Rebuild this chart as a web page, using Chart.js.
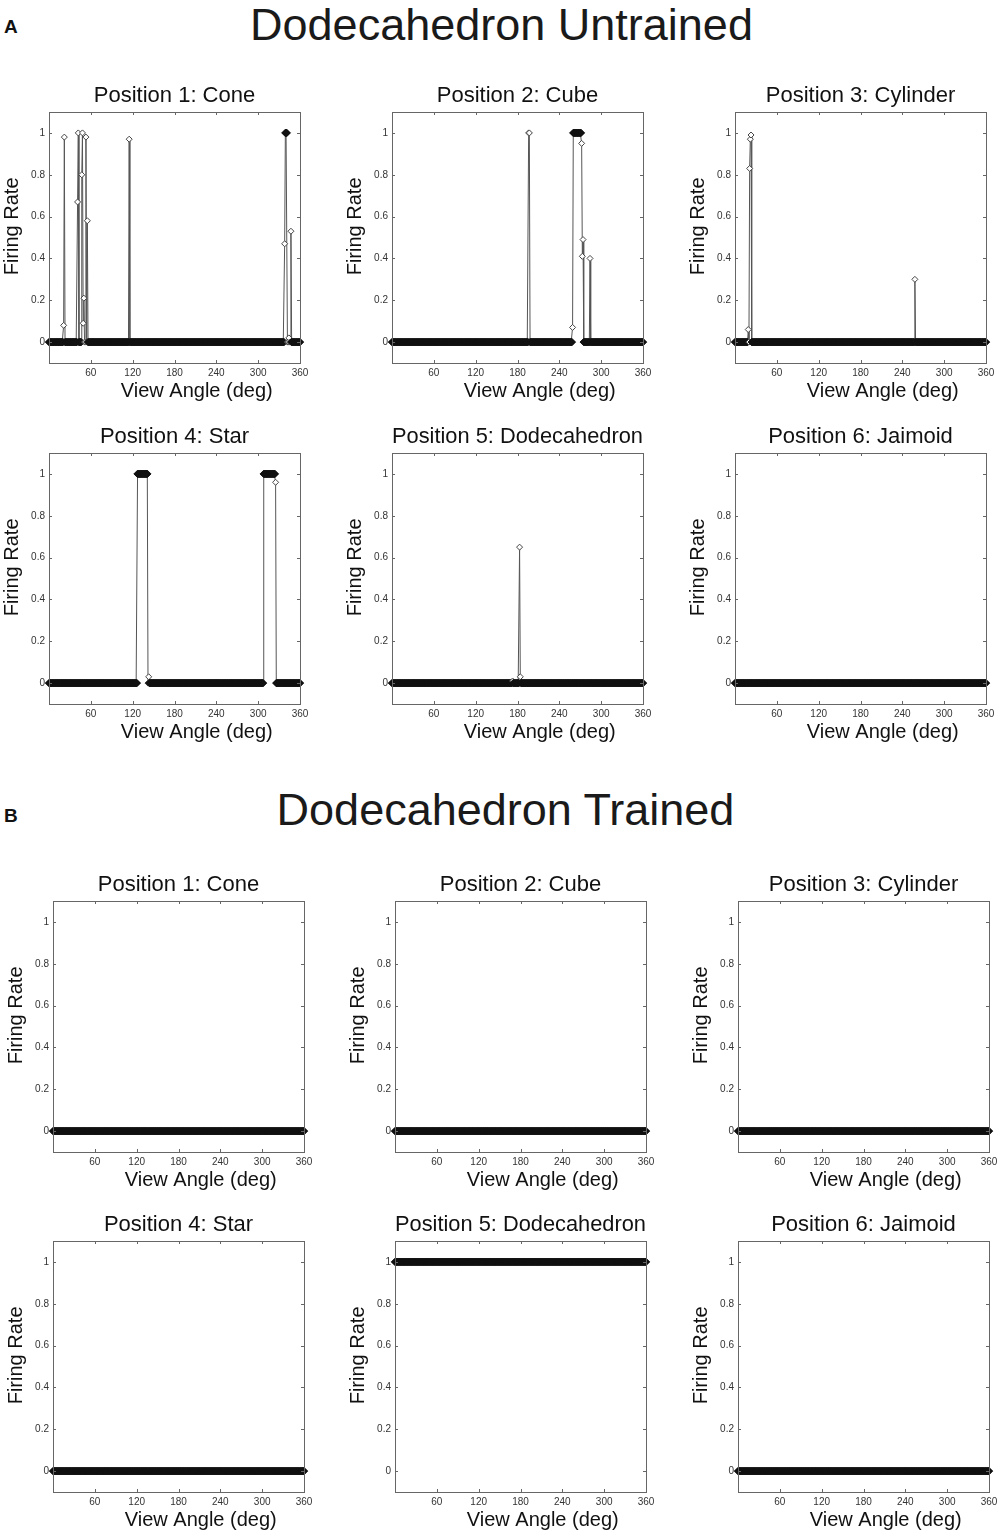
<!DOCTYPE html>
<html lang="en">
<head>
  <meta charset="UTF-8">
  <title>Dodecahedron Untrained / Trained</title>
  <script src="https://cdn.jsdelivr.net/npm/chart.js"></script>
  <style>
    body { margin: 0; background: #fff; font-family: "Liberation Sans", Arial, sans-serif; }
    #page { position: relative; width: 1003px; height: 1531px; overflow: hidden; }
    .heading { position: absolute; left: 0; width: 1003px; text-align: center; font-size: 45px; line-height: 45px; color: #1a1a1a; }
    .letter { position: absolute; font-weight: bold; font-size: 19px; line-height: 19px; color: #111; }
    canvas { position: absolute; }
  </style>
</head>
<body>
<div id="page">
  <div class="letter" style="left:4px; top:17px;">A</div>
  <div class="heading" style="top:2px;">Dodecahedron Untrained</div>
  <div class="letter" style="left:4px; top:806px;">B</div>
  <div class="heading" style="top:787px; left:4px;">Dodecahedron Trained</div>
</div>

<script>
  // sampled view angles (deg) and axis ticks
  const viewAngles = [];
  for (let a = 0; a <= 360; a++) viewAngles.push(a);
  const xTickValues = [60, 120, 180, 240, 300, 360];
  const yTickValues = [0, 0.2, 0.4, 0.6, 0.8, 1];

  const positionNames = ['Position 1: Cone', 'Position 2: Cube', 'Position 3: Cylinder',
                         'Position 4: Star', 'Position 5: Dodecahedron', 'Position 6: Jaimoid'];

  // firing rate everywhere except the listed [angle, rate] points
  const untrainedBaseline = [0, 0, 0, 0, 0, 0];
  const trainedBaseline = [0, 0, 0, 0, 1, 0];

  const untrainedCone = [[21, 0.08], [22, 0.98], [41, 0.67], [42, 1], [47, 0.8], [48, 1], [49, 0.09], [50, 0.21],
                         [53, 0.98], [55, 0.58], [115, 0.97], [338, 0.47], [339, 1], [340, 1], [341, 1],
                         [344, 0.02], [347, 0.53]];
  const untrainedCube = [[196, 1], [197, 1], [259, 0.07], [260, 1], [261, 1], [262, 1], [263, 1], [264, 1],
                         [265, 1], [266, 1], [267, 1], [268, 1], [269, 1], [270, 1], [271, 1],
                         [272, 0.95], [273, 0.41], [274, 0.49], [284, 0.4]];
  const untrainedCylinder = [[19, 0.06], [21, 0.83], [22, 0.97], [23, 0.99], [258, 0.3]];
  const untrainedStar = [[127, 1], [128, 1], [129, 1], [130, 1], [131, 1], [132, 1], [133, 1], [134, 1],
                         [135, 1], [136, 1], [137, 1], [138, 1], [139, 1], [140, 1], [141, 1], [143, 0.03],
                         [308, 1], [309, 1], [310, 1], [311, 1], [312, 1], [313, 1], [314, 1], [315, 1],
                         [316, 1], [317, 1], [318, 1], [319, 1], [320, 1], [321, 1], [322, 1], [323, 1],
                         [324, 1], [325, 0.96]];
  const untrainedDodecahedron = [[173, 0.01], [183, 0.65], [184, 0.03]];
  const untrainedJaimoid = [];

  const untrainedSpikes = [untrainedCone, untrainedCube, untrainedCylinder,
                           untrainedStar, untrainedDodecahedron, untrainedJaimoid];
  const trainedSpikes = [[], [], [], [], [], []];

  // panel box placement on the page
  const rowTops = [112, 453, 901, 1241];
  const colLeftsA = [49, 392, 735];
  const colLeftsB = [53, 395, 738];
  const BOX = 251, AXIS_W = 49, TITLE_H = 29, XAXIS_H = 50, RIGHT_PAD = 15;

  Chart.defaults.font.family = '"Liberation Sans", Arial, sans-serif';

  // MATLAB style box with inward ticks on all four sides
  const boxPlugin = {
    id: 'matlabBox',
    afterDraw(chart) {
      const { ctx, chartArea: a, scales } = chart;
      ctx.save();
      ctx.strokeStyle = '#666';
      ctx.lineWidth = 1;
      ctx.strokeRect(a.left + 0.5, a.top + 0.5, a.right - a.left, a.bottom - a.top);
      ctx.beginPath();
      xTickValues.forEach(v => {
        const px = Math.round(scales.x.getPixelForValue(v)) + 0.5;
        ctx.moveTo(px, a.bottom); ctx.lineTo(px, a.bottom - 3);
        ctx.moveTo(px, a.top); ctx.lineTo(px, a.top + 3);
      });
      yTickValues.forEach(v => {
        const py = Math.round(scales.y.getPixelForValue(v)) + 0.5;
        ctx.moveTo(a.left, py); ctx.lineTo(a.left + 3, py);
        ctx.moveTo(a.right, py); ctx.lineTo(a.right - 3, py);
      });
      ctx.stroke();
      ctx.restore();
    }
  };

  // markers inside a flat run of 3+ samples overlap into a solid black band
  function inRun(ctx) {
    const d = ctx.dataset.data, i = ctx.dataIndex, y = d[i].y;
    let n = 1;
    for (let j = i - 1; j >= 0 && d[j].y === y && n < 3; j--) n++;
    for (let j = i + 1; j < d.length && d[j].y === y && n < 3; j++) n++;
    return n >= 3;
  }

  function makePanel(boxLeft, boxTop, title, spikes, baseline) {
    const canvas = document.createElement('canvas');
    canvas.width = AXIS_W + BOX + RIGHT_PAD;
    canvas.height = TITLE_H + BOX + XAXIS_H;
    canvas.style.left = (boxLeft - AXIS_W) + 'px';
    canvas.style.top = (boxTop - TITLE_H) + 'px';
    document.getElementById('page').appendChild(canvas);

    const spikeMap = new Map(spikes);
    const points = viewAngles.map(a => ({ x: a, y: spikeMap.has(a) ? spikeMap.get(a) : baseline }));

    new Chart(canvas, {
      type: 'line',
      data: {
        datasets: [{
          data: points,
          borderColor: '#555',
          borderWidth: 1,
          tension: 0,
          pointStyle: 'rectRot',
          pointRadius: ctx => inRun(ctx) ? 3.7 : 3,
          pointBorderWidth: 1,
          pointBorderColor: ctx => inRun(ctx) ? '#111' : '#444',
          pointBackgroundColor: ctx => inRun(ctx) ? '#111' : '#fff',
          clip: false
        }]
      },
      options: {
        responsive: false,
        animation: false,
        events: [],
        layout: { padding: { left: 0, right: RIGHT_PAD, top: 0, bottom: 0 } },
        plugins: {
          legend: { display: false },
          tooltip: { enabled: false },
          title: {
            display: true,
            text: title,
            fullSize: false,
            color: '#111',
            font: { size: 22, weight: 'normal', lineHeight: 1.2 },
            padding: { top: 0, bottom: 2.6 }
          }
        },
        scales: {
          x: {
            type: 'linear',
            min: 0,
            max: 360,
            grid: { display: false, drawTicks: false },
            border: { display: false },
            afterBuildTicks: s => { s.ticks = xTickValues.map(v => ({ value: v })); },
            afterFit: s => { s.height = XAXIS_H; },
            ticks: { color: '#333', font: { size: 10 }, padding: 4, maxRotation: 0, autoSkip: false,
                     callback: v => String(v) },
            title: {
              display: true,
              text: '        View Angle (deg)',
              color: '#111',
              font: { size: 20 },
              padding: { top: 0, bottom: 10 }
            }
          },
          y: {
            type: 'linear',
            min: -0.1,
            max: 1.1,
            grid: { display: false, drawTicks: false },
            border: { display: false },
            afterBuildTicks: s => { s.ticks = yTickValues.map(v => ({ value: v })); },
            afterFit: s => { s.width = AXIS_W; },
            ticks: { color: '#333', font: { size: 10 }, padding: 4, callback: v => String(v) },
            title: {
              display: true,
              text: '    Firing Rate',
              color: '#111',
              font: { size: 20 },
              padding: { top: 0, bottom: 0 }
            }
          }
        }
      },
      plugins: [boxPlugin]
    });
  }

  positionNames.forEach((name, i) => {
    const row = Math.floor(i / 3), col = i % 3;
    makePanel(colLeftsA[col], rowTops[row], name, untrainedSpikes[i], untrainedBaseline[i]);
    makePanel(colLeftsB[col], rowTops[row + 2], name, trainedSpikes[i], trainedBaseline[i]);
  });
</script>
</body>
</html>
